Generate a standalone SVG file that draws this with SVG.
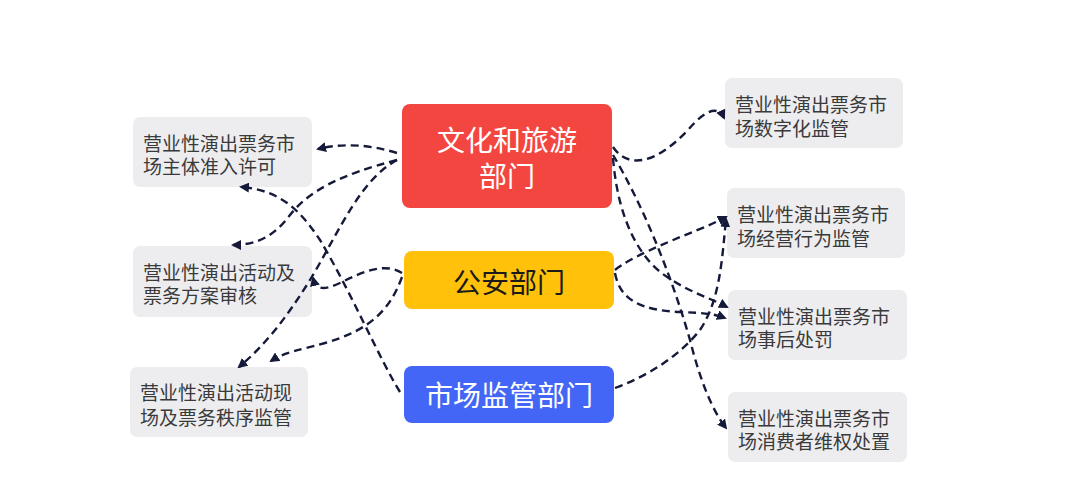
<svg xmlns="http://www.w3.org/2000/svg" width="1080" height="502" viewBox="0 0 1080 502">
<defs>
<marker id="arr" viewBox="0 0 10 10" refX="8" refY="5" markerWidth="10" markerHeight="10" markerUnits="userSpaceOnUse" orient="auto">
<path d="M0,0 L10,5 L0,10 Z" fill="#151a3a"/>
</marker>
</defs>
<style>
.box{fill:#EDEDF0}
.t{font-family:"Noto Sans CJK SC","Noto Sans",sans-serif;font-size:19px;fill:#3a3a3a;dominant-baseline:central}
.c{font-family:"Noto Sans CJK SC","Noto Sans",sans-serif;font-size:28px;text-anchor:middle;dominant-baseline:central}
.e{fill:none;stroke:#151a3a;stroke-width:2.4;stroke-dasharray:8 5;marker-end:url(#arr)}
</style>
<rect width="1080" height="502" fill="#ffffff"/>
<g id="center-culture">
<rect x="402" y="104" width="210" height="104" rx="8" fill="#F44640"/>
<text class="c" fill="#ffffff"><tspan x="507" y="139">文化和旅游</tspan><tspan x="507" y="175">部门</tspan></text>
</g>
<g id="center-police">
<rect x="404" y="251" width="210" height="58" rx="8" fill="#FFC10A"/>
<text class="c" x="509" y="281" fill="#1a1a1a">公安部门</text>
</g>
<g id="center-market">
<rect x="404" y="366" width="210" height="57" rx="8" fill="#4466F6"/>
<text class="c" x="509" y="394" fill="#ffffff">市场监管部门</text>
</g>
<g id="left1">
<rect class="box" x="133" y="117" width="179" height="70" rx="7"/>
<text class="t"><tspan x="143" y="142">营业性演出票务市</tspan><tspan x="143" y="165">场主体准入许可</tspan></text>
</g>
<g id="left2">
<rect class="box" x="133" y="246" width="179" height="71" rx="7"/>
<text class="t"><tspan x="143" y="271">营业性演出活动及</tspan><tspan x="143" y="294">票务方案审核</tspan></text>
</g>
<g id="left3">
<rect class="box" x="130" y="367" width="178" height="70" rx="7"/>
<text class="t"><tspan x="140" y="391">营业性演出活动现</tspan><tspan x="140" y="416">场及票务秩序监管</tspan></text>
</g>
<g id="right1">
<rect class="box" x="725" y="78" width="178" height="70" rx="7"/>
<text class="t"><tspan x="735" y="103">营业性演出票务市</tspan><tspan x="735" y="127">场数字化监管</tspan></text>
</g>
<g id="right2">
<rect class="box" x="727" y="188" width="178" height="70" rx="7"/>
<text class="t"><tspan x="737" y="213">营业性演出票务市</tspan><tspan x="737" y="237">场经营行为监管</tspan></text>
</g>
<g id="right3">
<rect class="box" x="728" y="290" width="179" height="70" rx="7"/>
<text class="t"><tspan x="738" y="315">营业性演出票务市</tspan><tspan x="738" y="338">场事后处罚</tspan></text>
</g>
<g id="right4">
<rect class="box" x="728" y="392" width="179" height="70" rx="7"/>
<text class="t"><tspan x="738" y="417">营业性演出票务市</tspan><tspan x="738" y="440">场消费者维权处置</tspan></text>
</g>
<g id="connectors">
<path class="e" d="M397,153 Q355,140 318,149"/>
<path class="e" d="M397,160 C340,175 310,190 290,215 C275,235 258,245 233,245"/>
<path class="e" d="M397,160 C360,180 340,230 310,280 C285,320 265,345 239,367"/>
<path class="e" d="M402,273 C385,262 362,272 342,282 C324,291 316,290 313,278"/>
<path class="e" d="M402,277 C390,310 370,330 325,343 C300,350 285,352 271,361"/>
<path class="e" d="M400,392 C380,360 350,290 320,240 C300,210 280,190 241,187"/>
<path class="e" d="M613,147 C625,165 650,170 688,130 C705,110 718,105 724,118"/>
<path class="e" d="M613,155 C640,200 670,270 690,340 C700,380 712,410 726,428"/>
<path class="e" d="M613,158 C618,220 640,262 672,280 C690,292 710,298 727,307"/>
<path class="e" d="M615,270 C630,258 660,245 705,227 C712,224 718,221 726,217"/>
<path class="e" d="M615,273 C620,300 640,310 680,312 C700,313 712,313 725,318"/>
<path class="e" d="M615,388 C650,375 680,355 700,330 C720,300 722,260 726,219"/>
</g>
</svg>
